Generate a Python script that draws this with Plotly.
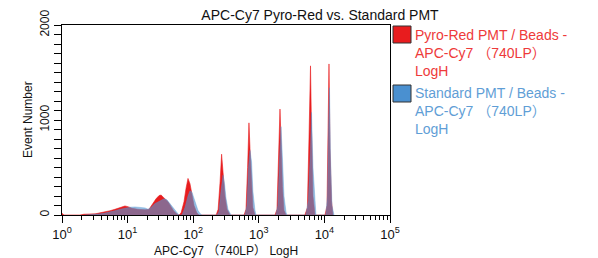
import plotly.graph_objects as go

# ---- data ----
red_name = "Pyro-Red PMT / Beads -<br>APC-Cy7 （740LP）<br>LogH"
blue_name = "Standard PMT / Beads -<br>APC-Cy7 （740LP）<br>LogH"

red_x = [1.0, 1.07,
         1.88, 2.16, 3.2, 3.8, 4.5, 5.4, 6.4, 7.7, 9.1, 10.1, 11.7, 14.4, 18.4, 21.2, 24.4, 27.1,
         30.2, 32.4, 35.9, 41.3, 45.8, 50.9, 56.6, 60.6,
         65.2, 72.4, 77.7, 83.3, 89.3, 95.8, 103, 114, 123,
         224, 240, 257, 271, 285, 305, 328, 364,
         596, 638, 675, 708, 734, 776, 813, 874,
         1766, 1893, 1996, 2104, 2180, 2294, 2421, 2600,
         5040, 5500, 5820, 6140, 6360, 6700, 7190,
         10220, 10960, 11350, 11750, 12170, 12820, 13500]
red_y = [18, 0,
         0, 8, 12, 22, 30, 45, 60, 80, 95, 88, 70, 60, 55, 60, 130, 170,
         205, 210, 180, 140, 90, 40, 10, 0,
         20, 140, 280, 385, 330, 230, 100, 20, 0,
         0, 60, 350, 640, 450, 200, 60, 0,
         0, 60, 500, 970, 700, 300, 80, 0,
         0, 60, 500, 1115, 800, 300, 50, 0,
         0, 80, 800, 1570, 900, 200, 0,
         0, 100, 800, 1590, 700, 150, 0]

blue_x = [2.24, 3.2, 3.8, 4.5, 5.4, 6.4, 7.7, 9.1, 10.9, 13.0, 15.5, 18.4, 20.5, 22.7, 26.2,
          31.2, 35.9, 39.8, 44.3, 49.2, 54.7, 60.6,
          67.5, 75, 83.3, 89.3, 95.8, 103, 110, 118, 127, 136,
          231, 247, 265, 285, 300, 316, 339, 377,
          616, 660, 697, 734, 776, 813, 874, 906,
          1820, 1950, 2104, 2180, 2294, 2421, 2600, 2690,
          5220, 5690, 6140, 6360, 6700, 7080, 7430,
          10500, 11150, 11550, 11950, 12390, 13040, 14000]
blue_y = [0, 5, 12, 20, 30, 45, 60, 72, 82, 85, 82, 75, 60, 80, 120,
          150, 170, 160, 120, 80, 30, 0,
          0, 80, 200, 255, 240, 180, 110, 50, 15, 0,
          0, 40, 250, 420, 330, 180, 60, 0,
          0, 100, 500, 680, 560, 250, 50, 0,
          0, 100, 700, 930, 600, 200, 30, 0,
          0, 150, 700, 1080, 500, 150, 0,
          0, 200, 900, 1340, 600, 100, 0]

x_tickvals = [1, 10, 100, 1000, 10000, 100000]
x_ticktext = ["10<sup>0</sup>", "10<sup>1</sup>", "10<sup>2</sup>",
              "10<sup>3</sup>", "10<sup>4</sup>", "10<sup>5</sup>"]
y_tickvals = [0, 1000, 2000]
y_ticktext = ["0", "1000", "2000"]

title_text = "APC-Cy7 Pyro-Red vs. Standard PMT"
x_title = "APC-Cy7 （740LP） LogH"
y_title = "Event Number"

RED = "rgb(232,28,30)"
BLUE = "rgba(84,150,210,0.62)"
BLUE_SOLID = "rgb(74,144,208)"
RED_TEXT = "rgb(238,58,58)"
BLUE_TEXT = "rgb(95,158,214)"
FONT = "Liberation Sans, Arial, Noto Sans CJK SC, sans-serif"

# layout geometry (pixels)
W, H = 598, 258
L, R, T, B = 62, 390, 25, 215


def px_x(p):
    return (p - L) / (R - L)


def px_y(p):
    return (B - p) / (B - T)


fig = go.Figure()
fig.add_trace(go.Scatter(x=red_x, y=red_y, mode="lines", fill="tozeroy",
                         line=dict(color=RED, width=0.6), fillcolor=RED,
                         name=red_name, showlegend=False))
fig.add_trace(go.Scatter(x=blue_x, y=blue_y, mode="lines", fill="tozeroy",
                         line=dict(color=BLUE, width=0.6), fillcolor=BLUE,
                         name=blue_name, showlegend=False))

shapes = [
    dict(type="rect", xref="paper", yref="paper",
         x0=px_x(393), x1=px_x(411), y0=px_y(43), y1=px_y(26),
         fillcolor=RED, line=dict(color="#333333", width=1)),
    dict(type="rect", xref="paper", yref="paper",
         x0=px_x(393), x1=px_x(411), y0=px_y(102), y1=px_y(85),
         fillcolor=BLUE_SOLID, line=dict(color="#333333", width=1)),
]
annotations = [
    dict(text=red_name, xref="paper", yref="paper", x=px_x(413), y=px_y(25),
         xanchor="left", yanchor="top", align="left", showarrow=False,
         font=dict(size=14, color=RED_TEXT, family=FONT)),
    dict(text=blue_name, xref="paper", yref="paper", x=px_x(413), y=px_y(83),
         xanchor="left", yanchor="top", align="left", showarrow=False,
         font=dict(size=14, color=BLUE_TEXT, family=FONT)),
    dict(text=x_title, xref="paper", yref="paper", x=0.5, y=px_y(251),
         xanchor="center", yanchor="middle", showarrow=False,
         font=dict(size=12, color="#111111", family=FONT)),
    dict(text=y_title, xref="paper", yref="paper", x=px_x(28), y=0.5,
         xanchor="center", yanchor="middle", showarrow=False, textangle=-90,
         font=dict(size=12, color="#111111", family=FONT)),
]

fig.update_layout(
    width=W, height=H,
    margin=dict(l=L, r=W - R, t=T, b=H - B, pad=0, autoexpand=False),
    paper_bgcolor="white", plot_bgcolor="white",
    font=dict(family=FONT, size=12, color="#111111"),
    title=dict(text=title_text, x=320 / W, xanchor="center", y=1 - 15 / H,
               yanchor="middle", font=dict(size=14, color="#111111")),
    shapes=shapes, annotations=annotations,
    showlegend=False,
)
fig.update_xaxes(
    type="log", range=[0, 5], tickvals=x_tickvals, ticktext=x_ticktext,
    showline=True, mirror=True, linecolor="black", linewidth=1, automargin=False,
    ticks="outside", ticklen=7, tickcolor="black", showgrid=False, zeroline=False,
    tickfont=dict(size=13),
    minor=dict(ticks="outside", ticklen=4, tickcolor="black", dtick="D1", showgrid=False),
)
fig.update_yaxes(
    range=[0, 2000], tickvals=y_tickvals, ticktext=y_ticktext, tickangle=-90,
    showline=True, mirror=True, linecolor="black", linewidth=1, automargin=False,
    ticks="outside", ticklen=7, tickcolor="black", showgrid=False, zeroline=False,
    tickfont=dict(size=12),
    minor=dict(ticks="outside", ticklen=7, tickcolor="black", dtick=100, showgrid=False),
)

fig.write_html("out.html", config={"displayModeBar": False},
               post_script="document.body.style.margin='0';document.body.style.overflow='hidden';")
